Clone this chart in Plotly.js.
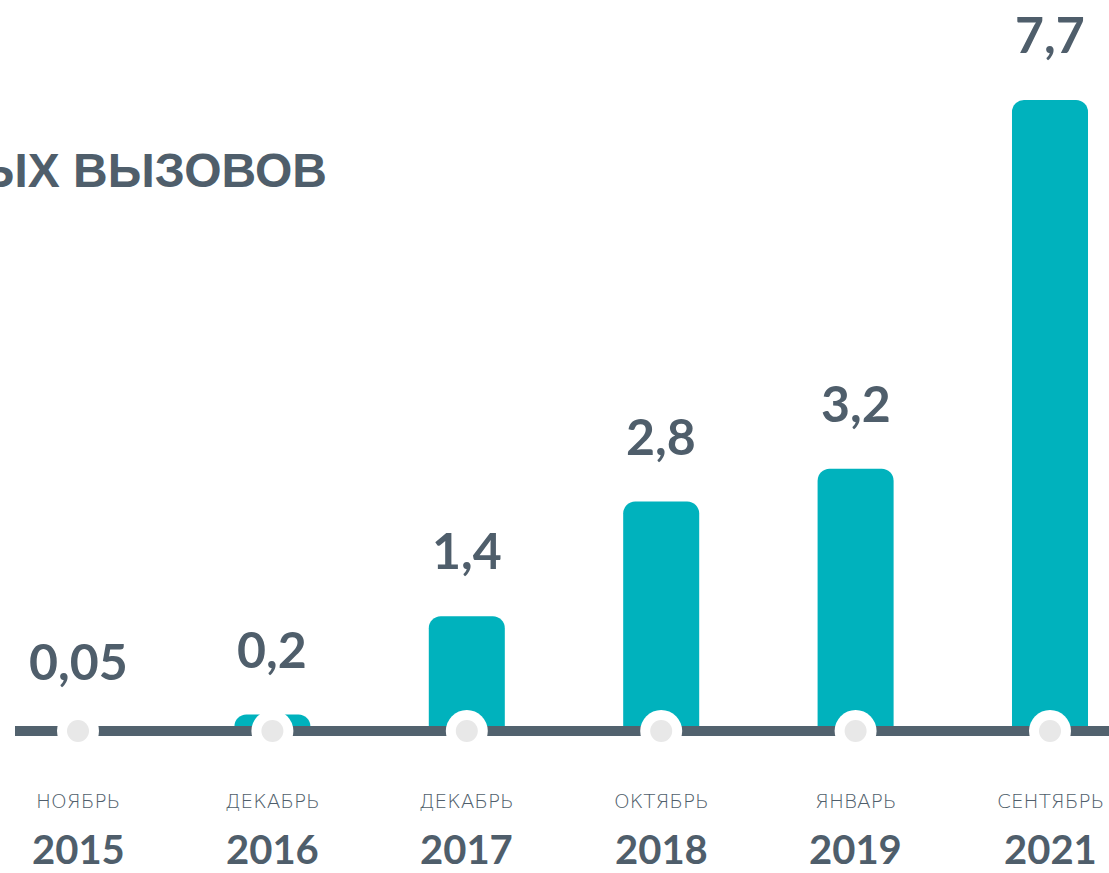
<!DOCTYPE html>
<html>
<head>
<meta charset="utf-8">
<script src="https://cdn.plot.ly/plotly-3.0.1.min.js"></script>
<style>html,body{margin:0;padding:0;background:#fff;}#chart{width:1109px;height:873px;}</style>
</head>
<body>
<div id="chart"></div>
<script>
// ---- data ----
var months = ["НОЯБРЬ", "ДЕКАБРЬ", "ДЕКАБРЬ", "ОКТЯБРЬ", "ЯНВАРЬ", "СЕНТЯБРЬ"];
var years = ["2015", "2016", "2017", "2018", "2019", "2021"];
var values = [0.05, 0.2, 1.4, 2.8, 3.2, 7.7];
var valueLabels = ["0,05", "0,2", "1,4", "2,8", "3,2", "7,7"];
var titleText = "ЫХ ВЫЗОВОВ";

// ---- styles ----
var W = 1109, H = 873;
var teal = "#00b2bd";
var slate = "#52626e";
var textCol = "#4f5e6b";

var idx = years.map(function (_, i) { return i; });

var bars = {
  type: "bar",
  x: idx,
  y: values,
  width: 0.391,
  marker: { color: teal, cornerradius: 12, line: { width: 0 } },
  hoverinfo: "skip"
};

var shapes = [];
// baseline
shapes.push({
  type: "rect", layer: "above",
  xref: "paper", x0: 15 / W, x1: 1,
  yref: "y", ysizemode: "pixel", yanchor: 0, y0: -5, y1: 5,
  fillcolor: slate, line: { width: 0 }
});
idx.forEach(function (i) {
  shapes.push({
    type: "circle", layer: "above",
    xref: "x", xsizemode: "pixel", xanchor: i, x0: -21, x1: 21,
    yref: "y", ysizemode: "pixel", yanchor: 0, y0: -21, y1: 21,
    fillcolor: "#ffffff", line: { width: 0 }
  });
  shapes.push({
    type: "circle", layer: "above",
    xref: "x", xsizemode: "pixel", xanchor: i, x0: -11, x1: 11,
    yref: "y", ysizemode: "pixel", yanchor: 0, y0: -11, y1: 11,
    fillcolor: "#e8e8e8", line: { width: 0 }
  });
});

var annotations = [];
idx.forEach(function (i) {
  annotations.push({
    x: i, y: values[i], xref: "x", yref: "y",
    text: valueLabels[i], showarrow: false,
    yanchor: "bottom", yshift: 34,
    font: { family: "Lato, 'Open Sans', sans-serif", size: 50, color: textCol, weight: 700 }
  });
  annotations.push({
    x: i, y: 1 - 801 / H, xref: "x", yref: "paper",
    text: months[i], showarrow: false, yanchor: "middle",
    font: { family: "'DejaVu Sans', 'Open Sans', sans-serif", size: 20, color: textCol, weight: 200 }
  });
  annotations.push({
    x: i, y: 1 - 849 / H, xref: "x", yref: "paper",
    text: years[i], showarrow: false, yanchor: "middle",
    font: { family: "Lato, 'Open Sans', sans-serif", size: 40, color: textCol, weight: 700 }
  });
});

var pxPerUnitX = 194.4;
var x0 = -78 / pxPerUnitX;
var x1 = (W - 78) / pxPerUnitX;
var baseY = 731, topY = 100;
var pxPerUnitY = (baseY - topY) / values[values.length - 1];
var y0 = -(H - baseY) / pxPerUnitY;
var y1 = baseY / pxPerUnitY;

var layout = {
  width: W, height: H,
  margin: { l: 0, r: 0, t: 0, b: 0, pad: 0 },
  paper_bgcolor: "#ffffff",
  plot_bgcolor: "rgba(0,0,0,0)",
  showlegend: false,
  title: {
    text: titleText,
    xref: "paper", yref: "paper",
    x: 327 / W, xanchor: "right",
    y: 1 - 170 / H, yanchor: "middle",
    font: { family: "'Liberation Sans', Arial, sans-serif", size: 48, color: textCol, weight: 700 }
  },
  xaxis: { type: "linear", range: [x0, x1], visible: false, fixedrange: true },
  yaxis: { range: [y0, y1], visible: false, fixedrange: true },
  shapes: shapes,
  annotations: annotations
};

Plotly.newPlot("chart", [bars], layout, { displayModeBar: false, staticPlot: true });
</script>
</body>
</html>
